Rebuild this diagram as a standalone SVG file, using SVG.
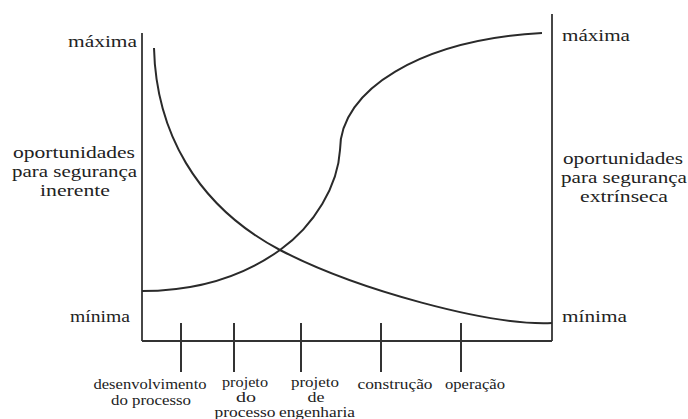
<svg xmlns="http://www.w3.org/2000/svg" width="688" height="419" viewBox="0 0 688 419">
<style>
text{font-family:"Liberation Serif","Times New Roman","DejaVu Serif",serif;fill:#222}
.big{font-size:17px}
.sm{font-size:14px;text-anchor:middle}
.ax{stroke:#333;stroke-width:1.8;fill:none}
.cv{stroke:#2a2a2a;stroke-width:2;fill:none}
.tk{stroke:#333;stroke-width:2;fill:none}
</style>
<rect width="688" height="419" fill="#fff"/>
<g id="axes">
<line class="ax" x1="142" y1="33" x2="142" y2="341"/>
<line class="ax" x1="142" y1="341" x2="552" y2="341"/>
<line class="ax" x1="552" y1="14" x2="552" y2="341"/>
</g>
<g id="connectors">
<path id="curve-inherent" class="cv" d="M154,48 C156,130 195,205 280,250 C357,290 490,326 552,323"/>
<path id="curve-extrinsic" class="cv" d="M142,291 C200,291 245,275 280,250 C315,225 338,185 340,150 C340,90 420,40 542,33"/>
</g>
<g id="ticks">
<line class="tk" x1="181" y1="323" x2="181" y2="372"/>
<line class="tk" x1="234" y1="323" x2="234" y2="372"/>
<line class="tk" x1="301" y1="323" x2="301" y2="372"/>
<line class="tk" x1="381" y1="323" x2="381" y2="372" stroke-width="3"/>
<line class="tk" x1="461" y1="323" x2="461" y2="372"/>
</g>
<g id="left-labels">
<text class="big" x="68" y="47" textLength="69" lengthAdjust="spacingAndGlyphs">máxima</text>
<text class="big" x="13" y="158" textLength="122" lengthAdjust="spacingAndGlyphs">oportunidades</text>
<text class="big" x="12" y="177" textLength="125" lengthAdjust="spacingAndGlyphs">para segurança</text>
<text class="big" x="40" y="196" textLength="70" lengthAdjust="spacingAndGlyphs">inerente</text>
<text class="big" x="70" y="322" textLength="60" lengthAdjust="spacingAndGlyphs">mínima</text>
</g>
<g id="right-labels">
<text class="big" x="562" y="41" textLength="68" lengthAdjust="spacingAndGlyphs">máxima</text>
<text class="big" x="563" y="164" textLength="120" lengthAdjust="spacingAndGlyphs">oportunidades</text>
<text class="big" x="561" y="183" textLength="126" lengthAdjust="spacingAndGlyphs">para segurança</text>
<text class="big" x="580" y="202" textLength="88" lengthAdjust="spacingAndGlyphs">extrínseca</text>
<text class="big" x="562" y="322" textLength="65" lengthAdjust="spacingAndGlyphs">mínima</text>
</g>
<g id="phase-labels">
<text class="sm" x="150" y="389" textLength="113" lengthAdjust="spacingAndGlyphs">desenvolvimento</text>
<text class="sm" x="151" y="405" textLength="80" lengthAdjust="spacingAndGlyphs">do processo</text>
<text class="sm" x="245" y="387" textLength="46" lengthAdjust="spacingAndGlyphs">projeto</text>
<text class="sm" x="246" y="402" textLength="20" lengthAdjust="spacingAndGlyphs">do</text>
<text class="sm" x="245" y="417" textLength="61" lengthAdjust="spacingAndGlyphs">processo</text>
<text class="sm" x="315" y="387" textLength="48" lengthAdjust="spacingAndGlyphs">projeto</text>
<text class="sm" x="316" y="402" textLength="17" lengthAdjust="spacingAndGlyphs">de</text>
<text class="sm" x="317" y="417" textLength="76" lengthAdjust="spacingAndGlyphs">engenharia</text>
<text class="sm" x="395" y="389" textLength="75" lengthAdjust="spacingAndGlyphs">construção</text>
<text class="sm" x="475" y="389" textLength="60" lengthAdjust="spacingAndGlyphs">operação</text>
</g>
</svg>
